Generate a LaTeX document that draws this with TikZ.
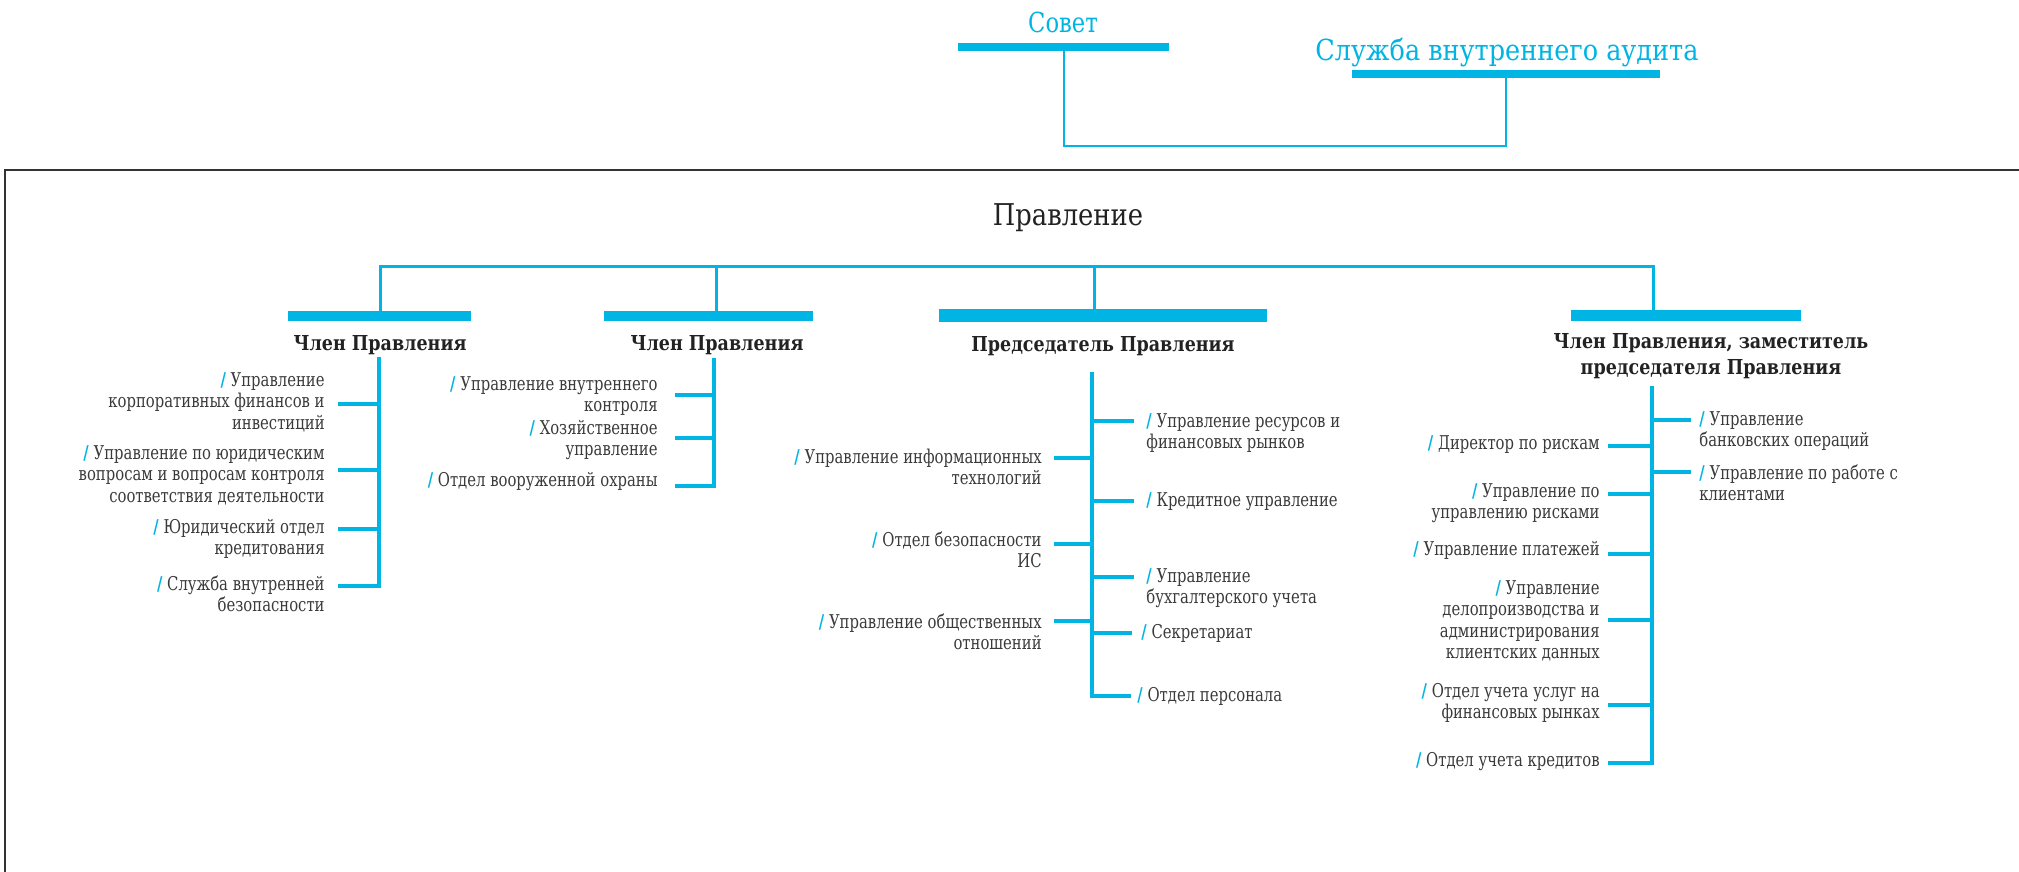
\documentclass[tikz,border=0pt]{standalone}
\usepackage{fontspec}
\setmainfont{DejaVu Serif}
\newfontfamily\bodyf{DejaVu Serif}[FakeStretch=0.78]
\newfontfamily\headf{DejaVu Serif}[FakeStretch=0.85]
\newfontfamily\titlef{DejaVu Serif}[FakeStretch=0.82]
\newfontfamily\auditf{DejaVu Serif}[FakeStretch=0.88]
\newfontfamily\boardf{DejaVu Serif}[FakeStretch=0.86]
\definecolor{brand}{HTML}{00B4E3}
\definecolor{ink}{HTML}{3A3A3A}
\definecolor{headink}{HTML}{222222}
\definecolor{framec}{HTML}{333333}
\newcommand{\cslash}{{\color{brand}\bfseries/}~}
\tikzset{
  bar/.style={fill=brand, draw=none, inner sep=0pt, outer sep=0pt},
  toptitle/.style={text=brand, inner sep=0pt, font=\titlef\fontsize{13.8}{15}\selectfont},
  audittitle/.style={text=brand, inner sep=0pt, font=\auditf\fontsize{14.5}{16}\selectfont},
  boardtitle/.style={text=headink, inner sep=0pt, font=\boardf\fontsize{15}{17}\selectfont},
  headtext/.style={text=headink, inner sep=0pt, align=center, font=\headf\bfseries\fontsize{10.3}{13}\selectfont},
  unitL/.style={text=ink, inner sep=0pt, anchor=east, align=right, font=\bodyf\fontsize{9.5}{10.75}\selectfont},
  unitR/.style={text=ink, inner sep=0pt, anchor=west, align=left, font=\bodyf\fontsize{9.5}{10.75}\selectfont},
  thinlink/.style={draw=brand, line width=1pt},
  trunk/.style={draw=brand, line width=1.5pt},
  comb/.style={draw=brand, line width=2pt},
  framepen/.style={draw=framec, line width=1pt}
}
\begin{document}
\begin{tikzpicture}[x=0.5pt, y=-0.5pt]
\useasboundingbox (0,0) rectangle (2019,872);

% frame
\draw[framepen] (5,872) -- (5,170) -- (2019,170);

% top: Council and internal audit
\node[toptitle, anchor=base] (sovet) at (1063,33) {Совет};
\node[bar, minimum width=105.5pt, minimum height=4pt] (sovetbar) at (1063.5,47) {};
\node[audittitle, anchor=base] (audit) at (1507,61) {Служба внутреннего аудита};
\node[bar, minimum width=154pt, minimum height=4pt] (auditbar) at (1506,74) {};
\draw[thinlink] (sovetbar.south) -- ++(0,95) -| (auditbar.south);

% board
\node[boardtitle, anchor=base] (board) at (1068,225) {Правление};

\node[bar, minimum width=91.5pt, minimum height=5pt] (bar1) at (379.5,316) {};
\node[bar, minimum width=104.5pt, minimum height=5pt] (bar2) at (708.5,316) {};
\node[bar, minimum width=164pt, minimum height=6.5pt] (bar3) at (1103,315.5) {};
\node[bar, minimum width=115pt, minimum height=5.5pt] (bar4) at (1686,315.5) {};

\coordinate (jn1) at (380,266);
\coordinate (jn2) at (716,266);
\coordinate (jn3) at (1094,266);
\coordinate (jn4) at (1653,266);
\draw[trunk] (jn1 |- bar1.north) -- (jn1) -- (jn4) -- (jn4 |- bar4.north);
\draw[trunk] (jn2) -- (jn2 |- bar2.north);
\draw[trunk] (jn3) -- (jn3 |- bar3.north);

\node[headtext, anchor=base] (h1) at (380,350) {Член Правления};
\node[headtext, anchor=base] (h2) at (717,350) {Член Правления};
\node[headtext, anchor=base] (h3) at (1103,351) {Председатель Правления};
\node[headtext, anchor=center] (h4) at (1711,356) {Член Правления, заместитель\\председателя Правления};

% branch 1
\node[unitL] (t11) at (325,402) {\cslash Управление\\корпоративных финансов и\\инвестиций};
\node[unitL] (t12) at (325,475) {\cslash Управление по юридическим\\вопросам и вопросам контроля\\соответствия деятельности};
\node[unitL] (t13) at (325,539) {\cslash Юридический отдел\\кредитования};
\node[unitL] (t14) at (325,594) {\cslash Служба внутренней\\безопасности};
\coordinate (b1top) at (379,357);
\draw[comb] (b1top) -- (379,586) -- (338,586);
\draw[comb] (379,404) -- (338,404);
\draw[comb] (379,470) -- (338,470);
\draw[comb] (379,529) -- (338,529);

% branch 2
\node[unitL] (t21) at (658,396) {\cslash Управление внутреннего\\контроля};
\node[unitL] (t22) at (658,440) {\cslash Хозяйственное\\управление};
\node[unitL] (t23) at (658,482) {\cslash Отдел вооруженной охраны};
\coordinate (b2top) at (714,358);
\draw[comb] (b2top) -- (714,486) -- (675,486);
\draw[comb] (714,395) -- (675,395);
\draw[comb] (714,438) -- (675,438);

% branch 3
\node[unitL] (t31) at (1042,467) {\cslash Управление информационных\\технологий};
\node[unitL] (t32) at (1042,550) {\cslash Отдел безопасности\\ИС};
\node[unitL] (t33) at (1042,632) {\cslash Управление общественных\\отношений};
\node[unitR] (t34) at (1146,433) {\cslash Управление ресурсов и\\финансовых рынков};
\node[unitR] (t35) at (1146,502) {\cslash Кредитное управление};
\node[unitR] (t36) at (1146,588) {\cslash Управление\\бухгалтерского учета};
\node[unitR] (t37) at (1141,633) {\cslash Секретариат};
\node[unitR] (t38) at (1137,696) {\cslash Отдел персонала};
\coordinate (b3top) at (1092,372);
\draw[comb] (b3top) -- (1092,696) -- (1131,696);
\draw[comb] (1092,458) -- (1054,458);
\draw[comb] (1092,544) -- (1054,544);
\draw[comb] (1092,621) -- (1054,621);
\draw[comb] (1092,421) -- (1134,421);
\draw[comb] (1092,501) -- (1134,501);
\draw[comb] (1092,577) -- (1134,577);
\draw[comb] (1092,633) -- (1132,633);

% branch 4
\node[unitL] (t41) at (1600,445) {\cslash Директор по рискам};
\node[unitL] (t42) at (1600,503) {\cslash Управление по\\управлению рисками};
\node[unitL] (t43) at (1600,550) {\cslash Управление платежей};
\node[unitL] (t44) at (1600,621) {\cslash Управление\\делопроизводства и\\администрирования\\клиентских данных};
\node[unitL] (t45) at (1600,703) {\cslash Отдел учета услуг на\\финансовых рынках};
\node[unitL] (t46) at (1600,762) {\cslash Отдел учета кредитов};
\node[unitR] (t47) at (1699,431) {\cslash Управление\\банковских операций};
\node[unitR] (t48) at (1699,483) {\cslash Управление по работе с\\клиентами};
\coordinate (b4top) at (1652,386);
\draw[comb] (b4top) -- (1652,763) -- (1608,763);
\draw[comb] (1652,446) -- (1608,446);
\draw[comb] (1652,494) -- (1608,494);
\draw[comb] (1652,554) -- (1608,554);
\draw[comb] (1652,620) -- (1608,620);
\draw[comb] (1652,705) -- (1608,705);
\draw[comb] (1652,420) -- (1691,420);
\draw[comb] (1652,472) -- (1691,472);
\end{tikzpicture}
\end{document}
